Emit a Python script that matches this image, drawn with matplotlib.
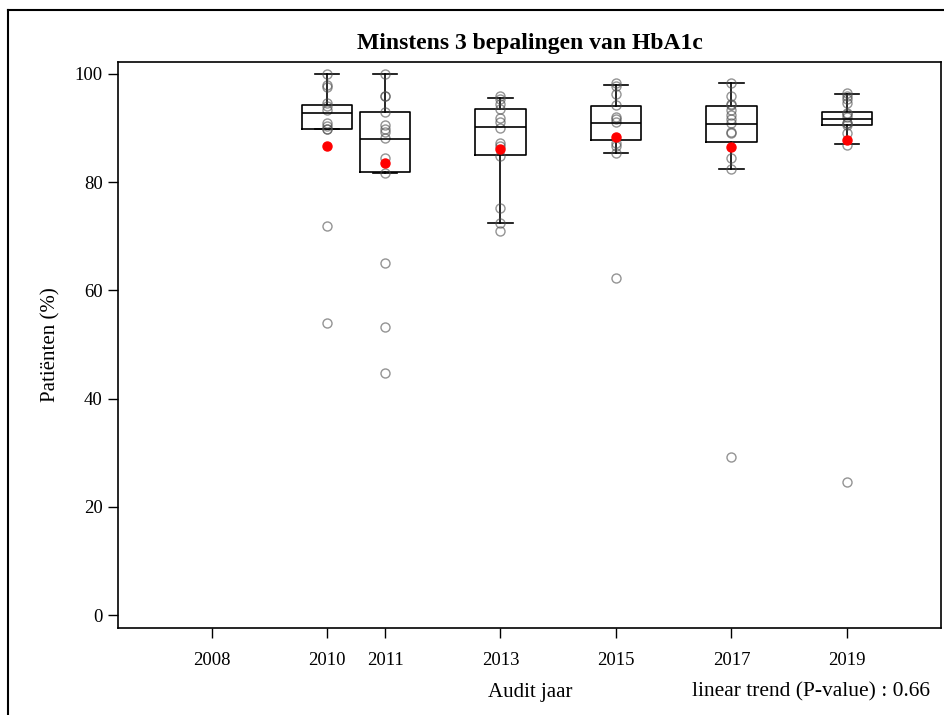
import matplotlib
matplotlib.use("Agg")
import matplotlib.pyplot as plt
from matplotlib.lines import Line2D

plt.rcParams['font.family'] = ['Liberation Serif', 'DejaVu Serif']

years = [2010, 2011, 2013, 2015, 2017, 2019]
tick_years = [2008, 2010, 2011, 2013, 2015, 2017, 2019]

# box statistics per audit year
q1 = [89.9, 81.9, 85.0, 87.7, 87.4, 90.6]
med = [92.7, 87.9, 90.1, 90.9, 90.8, 91.6]
q3 = [94.2, 92.9, 93.6, 94.1, 94.1, 93.0]
whislo = [89.9, 81.6, 72.4, 85.3, 82.4, 87.0]
whishi = [100.0, 100.0, 95.6, 98.0, 98.3, 96.2]

# individual practices
pts_2010 = [100.0, 97.9, 97.5, 94.6, 94.0, 93.3, 91.0, 90.4, 89.8, 89.9, 71.9, 54.0]
pts_2011 = [100.0, 96.0, 95.9, 92.9, 90.6, 89.9, 89.3, 88.1, 84.4, 81.6, 65.0, 53.2, 44.7]
pts_2013 = [95.9, 95.3, 94.5, 93.6, 91.8, 91.2, 90.0, 87.3, 86.7, 84.8, 75.3, 72.5, 70.9]
pts_2015 = [98.3, 97.8, 96.3, 94.3, 92.1, 91.6, 91.2, 87.3, 86.6, 85.3, 62.2]
pts_2017 = [98.4, 95.9, 94.4, 94.3, 93.3, 92.4, 91.6, 91.0, 89.2, 89.1, 84.4, 82.4, 29.2]
pts_2019 = [96.5, 95.9, 95.3, 94.7, 92.7, 92.6, 92.1, 91.0, 90.9, 90.6, 89.0, 86.9, 24.5]
points = [pts_2010, pts_2011, pts_2013, pts_2015, pts_2017, pts_2019]

# own practice
own = [86.7, 83.6, 86.1, 88.4, 86.4, 87.7]

title = "Minstens 3 bepalingen van HbA1c"
p_value = 0.66

fig = plt.figure(figsize=(9.45, 7.15), dpi=100)
ax = fig.add_axes([118 / 945, 1 - 628 / 715, (941 - 118) / 945, (628 - 62) / 715])

stats = []
for i in range(len(years)):
    stats.append(dict(q1=q1[i], med=med[i], q3=q3[i],
                      whislo=whislo[i], whishi=whishi[i], fliers=[]))

lw = 1.2
ax.bxp(stats, positions=years, widths=0.87, showfliers=False,
       boxprops=dict(color='black', linewidth=lw),
       medianprops=dict(color='black', linewidth=lw),
       whiskerprops=dict(color='black', linewidth=lw),
       capprops=dict(color='black', linewidth=lw),
       capwidths=0.42, manage_ticks=False)

for yr, vals in zip(years, points):
    ax.plot([yr] * len(vals), vals, linestyle='none', marker='o',
            markersize=6.5, markerfacecolor='none',
            markeredgecolor=(0.3, 0.3, 0.3, 0.6), markeredgewidth=1.0)

ax.plot(years, own, linestyle='none', marker='o', markersize=6.5,
        color='red', markeredgecolor='red')

ax.set_xlim(2006.375, 2020.63)
ax.set_ylim(-2.4, 102.2)
ax.set_xticks(tick_years)
ax.set_xticklabels([str(y) for y in tick_years])
ax.set_yticks([0, 20, 40, 60, 80, 100])
ax.tick_params(labelsize=13.5, length=7, width=1.0, pad=10)
ax.tick_params(axis='y', pad=4)
for sp in ax.spines.values():
    sp.set_linewidth(1.2)

ax.set_title(title, fontsize=17, fontweight='bold', pad=9)
ax.set_ylabel("Patiënten (%)", fontsize=15, labelpad=10)
fig.text(530 / 945, 1 - 692 / 715, "Audit jaar", fontsize=15,
         ha='center', va='center')
fig.text(930 / 945, 1 - 692 / 715, "linear trend (P-value) : %.2f" % p_value,
         fontsize=15.5, ha='right', va='center')

# outer frame (left and top edges)
fig.add_artist(Line2D([8 / 945, 8 / 945], [0, 1 - 10 / 715],
                      color='black', linewidth=1.5, transform=fig.transFigure))
fig.add_artist(Line2D([8 / 945, 1], [1 - 10 / 715, 1 - 10 / 715],
                      color='black', linewidth=1.5, transform=fig.transFigure))

fig.savefig("out.png", dpi=100)
